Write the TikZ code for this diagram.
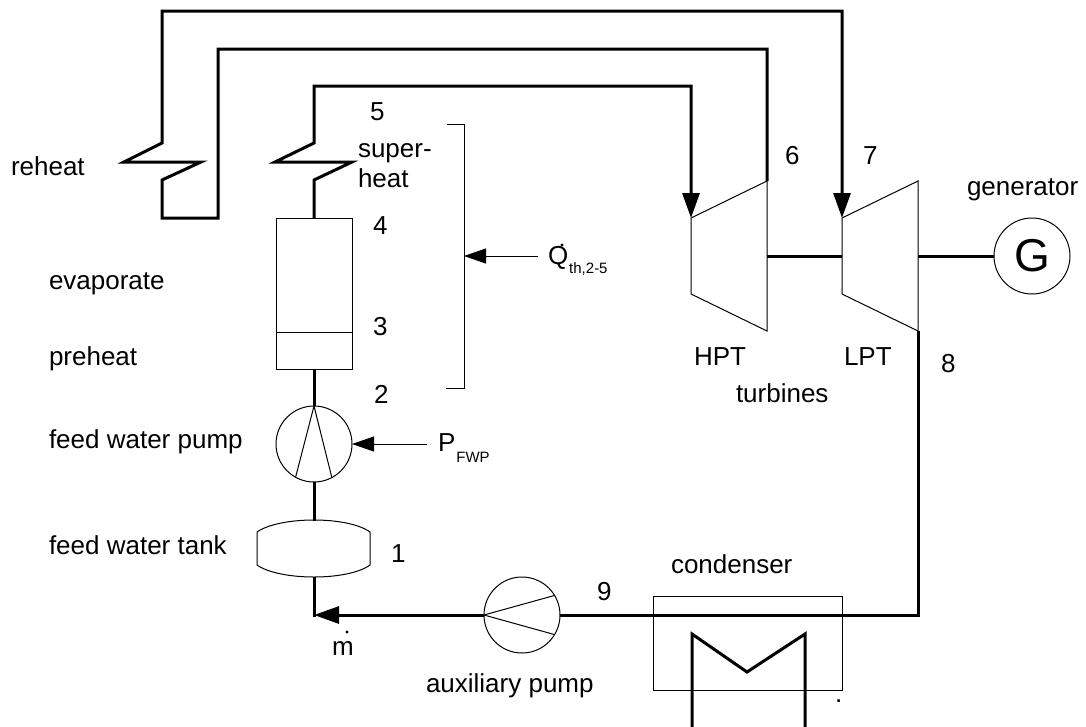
\documentclass[tikz,border=0pt]{standalone}
\usepackage{fontspec}
\setmainfont{Liberation Sans}
\usetikzlibrary{arrows.meta,calc}
\begin{document}
\begin{tikzpicture}[x=1pt,y=-1pt,
  lbl/.style={anchor=base west,inner sep=0pt,outer sep=0pt,font=\fontsize{26}{30}\selectfont},
  pipe/.style={line width=3pt},
  outl/.style={line width=1pt},
  parr/.style={-{Triangle[length=25pt,width=17pt]}},
  tarr/.style={-{Triangle[length=22pt,width=15pt]}},
  machine/.style={circle,draw,line width=1pt,minimum size=76pt,inner sep=0pt,outer sep=0pt},
  subs/.style={font=\fontsize{15}{15}\selectfont}
]
\useasboundingbox (0,0) rectangle (1086,726);

% ---------- components ----------
\node[machine] (fwp) at (314,444) {};
\node[machine] (aux) at (522,615) {};
\node[machine,font=\fontsize{46}{46}\selectfont] (gen) at (1032,256) {G};
\node[draw,outl,minimum width=76pt,minimum height=151pt,inner sep=0pt,outer sep=0pt] (evap) at (314,293.5) {};
\draw[outl] ($(evap.south west)+(0,-37)$) -- ($(evap.south east)+(0,-37)$);

% feed water tank
\coordinate (tanktop) at (314,521);
\coordinate (tankbot) at (314,577);
\draw[outl] (257,532) .. controls (280,516) and (348,516) .. (370,532) -- (370,565)
  .. controls (348,581) and (280,581) .. (257,565) -- cycle;

% turbines
\coordinate (hpin) at (691,218);
\coordinate (hpout) at (767,181);
\coordinate (lpin) at (842,218);
\coordinate (lpout) at (918,331);
\draw[outl] (hpin) -- (hpout) -- (767,331) -- (691,294) -- cycle;
\draw[outl] (lpin) -- (918,181) -- (lpout) -- (842,294) -- cycle;
\coordinate (hpshaft) at (767,256);
\coordinate (lpshaftl) at (842,256);
\coordinate (lpshaftr) at (918,256);
\draw[pipe] (hpshaft) -- (lpshaftl);
\draw[pipe] (lpshaftr) -- (gen.west);

% condenser
\node[draw,outl,minimum width=189pt,minimum height=94pt,inner sep=0pt,outer sep=0pt] (cond) at (747.5,643) {};
\draw[pipe] (692,730) -- (692,634) -- (747,672) -- (805,634) -- (805,730);

% ---------- pipes ----------
\draw[pipe,parr] (evap.north) -- (314,180) -- (352,162) -- (275,162) -- (314,143)
  -- (314,86) -- (691,86) -- (hpin);
\draw[pipe,parr] (hpout) -- (767,49) -- (218,49) -- (218,218) -- (162,218) -- (162,180)
  -- (201,162) -- (124,162) -- (162,143) -- (162,11) -- (842,11) -- (lpin);
\draw[pipe] (evap.south) -- (fwp.north);
\draw[pipe] (fwp.south) -- (tanktop);
\coordinate (corner) at (314,615);
\draw[pipe] (tankbot) -- ($(corner)+(0,1.5)$);
\draw[pipe,parr] (aux.west) -- (corner);
\draw[pipe] (lpout) -- (918,615) -- (aux.east);

% pump symbols
\draw[outl] (fwp.241.5) -- (fwp.north) -- (fwp.298.5);
\draw[outl] (aux.31.5) -- (aux.west) -- (aux.-31.5);

% heat input bracket and arrows
\draw[outl] (447,124) -- (464,124) -- (464,388) -- (446,388);
\coordinate (bracketmid) at (464,256);
\coordinate (qstart) at (538,256);
\draw[outl,tarr] (qstart) -- (bracketmid);
\coordinate (pstart) at (427,444);
\draw[outl,tarr] (pstart) -- (fwp.east);

% ---------- labels ----------
\node[lbl] (lreheat) at (11,175) {reheat};
\node[lbl] (levap) at (49,289) {evaporate};
\node[lbl] (lpre) at (49,365) {preheat};
\node[lbl] (lfwp) at (49,448) {feed water pump};
\node[lbl] (lfwt) at (49,554) {feed water tank};
\node[lbl] (l5) at (370,120) {5};
\node[lbl] (lsup) at (358,157) {super-};
\node[lbl] (lheat) at (358,187) {heat};
\node[lbl] (l4) at (373,234) {4};
\node[lbl] (l3) at (373,335) {3};
\node[lbl] (l2) at (374,403) {2};
\node[lbl] (l1) at (391,562) {1};
\node[lbl] (lm) at (332,655) {m};
\fill (347,632) circle (1.6);
\node[lbl] (l9) at (597,600) {9};
\node[lbl] (lcond) at (671,573) {condenser};
\node[lbl] (laux) at (426,692) {auxiliary pump};
\node[lbl] (lhpt) at (694,365) {HPT};
\node[lbl] (llpt) at (844,365) {LPT};
\node[lbl] (lturb) at (736,402) {turbines};
\node[lbl] (l8) at (941,372) {8};
\node[lbl] (l6) at (785,164) {6};
\node[lbl] (l7) at (863,164) {7};
\node[lbl] (lgen) at (967,195) {generator};
\node[lbl] (lq) at (548,264) {Q\hspace{1pt}\raisebox{-9pt}{\fontsize{15}{15}\selectfont th,2-5}};
\fill (562,245) circle (1.6);
\node[lbl] (lp) at (438,451) {P\hspace{1pt}\raisebox{-11pt}{\fontsize{15}{15}\selectfont FWP}};
\node[lbl] (ldot) at (835,702) {.};
\end{tikzpicture}
\end{document}
